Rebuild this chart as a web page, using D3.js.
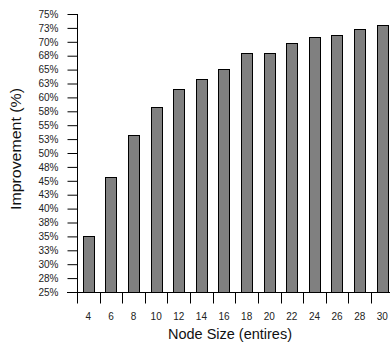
<!DOCTYPE html>
<html>
<head>
<meta charset="utf-8">
<script src="https://cdn.jsdelivr.net/npm/d3@7"></script>
<style>
  html, body { margin: 0; padding: 0; background: #fff; }
  svg { display: block; font-family: "Liberation Sans", Arial, sans-serif; }
</style>
</head>
<body>
<svg id="chart" width="390" height="347"></svg>
<script>
const categories = ["4","6","8","10","12","14","16","18","20","22","24","26","28","30"];
const improvement = [35.1, 45.7, 53.2, 58.2, 61.6, 63.3, 65.1, 67.9, 67.9, 69.8, 70.8, 71.2, 72.3, 73.0];
const yTickValues = [25,27.5,30,32.5,35,37.5,40,42.5,45,47.5,50,52.5,55,57.5,60,62.5,65,67.5,70,72.5,75];
const yTickLabels = ["25%","28%","30%","33%","35%","38%","40%","43%","45%","48%","50%","53%","55%","58%","60%","63%","65%","68%","70%","73%","75%"];
const xTitle = "Node Size (entires)";
const yTitle = "Improvement (%)";

(function () {
const svg = d3.select("#chart");
const mLeft = 77, mTop = 14, mBottom = 292, band = 22.62;

const x = d3.scaleBand().domain(categories)
  .range([mLeft, mLeft + band * categories.length])
  .paddingInner(0.5).paddingOuter(0.25);
const y = d3.scaleLinear().domain([25, 75]).range([mBottom, mTop]);

// bars
svg.append("g").selectAll("rect").data(categories).join("rect")
  .attr("x", d => Math.round(x(d)) + 0.5)
  .attr("y", (d, i) => Math.round(y(improvement[i])) + 0.5)
  .attr("width", Math.round(x.bandwidth()))
  .attr("height", (d, i) => Math.round(mBottom) - Math.round(y(improvement[i])))
  .attr("fill", "#808080")
  .attr("stroke", "#000")
  .attr("stroke-width", 1);

// y axis
const yAxis = d3.axisLeft(y).tickValues(yTickValues)
  .tickFormat((d, i) => yTickLabels[i]).tickSize(10).tickPadding(9);
const gy = svg.append("g").attr("transform", `translate(${mLeft + 0.5},0)`).call(yAxis);
gy.select(".domain").attr("d", `M0,${mTop}V${mBottom}`).attr("stroke", "#000");
gy.selectAll(".tick line").attr("stroke", "#000");
gy.selectAll(".tick text").attr("font-size", 10).attr("fill", "#222")
  .attr("font-family", "Liberation Sans, Arial, sans-serif");

// x axis: ticks at band boundaries, labels at band centers
const xAxisG = svg.append("g").attr("transform", `translate(0,${mBottom + 0.5})`);
const bounds = d3.range(categories.length + 1).map(i => mLeft + i * band);
xAxisG.append("line").attr("x1", mLeft - 10).attr("x2", 390).attr("y1", 0).attr("y2", 0)
  .attr("stroke", "#000");
xAxisG.selectAll("line.tk").data(bounds).join("line").attr("class", "tk")
  .attr("x1", d => Math.round(d) + 0.5).attr("x2", d => Math.round(d) + 0.5)
  .attr("y1", 0).attr("y2", 11).attr("stroke", "#000");
xAxisG.selectAll("text").data(categories).join("text")
  .attr("x", d => x(d) + x.bandwidth() / 2)
  .attr("y", 27)
  .attr("text-anchor", "middle")
  .attr("font-size", 10)
  .attr("fill", "#222")
  .text(d => d);

// titles
svg.append("text").attr("x", 230).attr("y", 339).attr("text-anchor", "middle")
  .attr("font-size", 14).attr("fill", "#111")
  .attr("textLength", 124).attr("lengthAdjust", "spacingAndGlyphs").text(xTitle);
svg.append("text").attr("transform", "translate(21,149) rotate(-90)")
  .attr("text-anchor", "middle").attr("font-size", 14).attr("fill", "#111")
  .attr("textLength", 122).attr("lengthAdjust", "spacingAndGlyphs").text(yTitle);
})();
</script>
</body>
</html>
